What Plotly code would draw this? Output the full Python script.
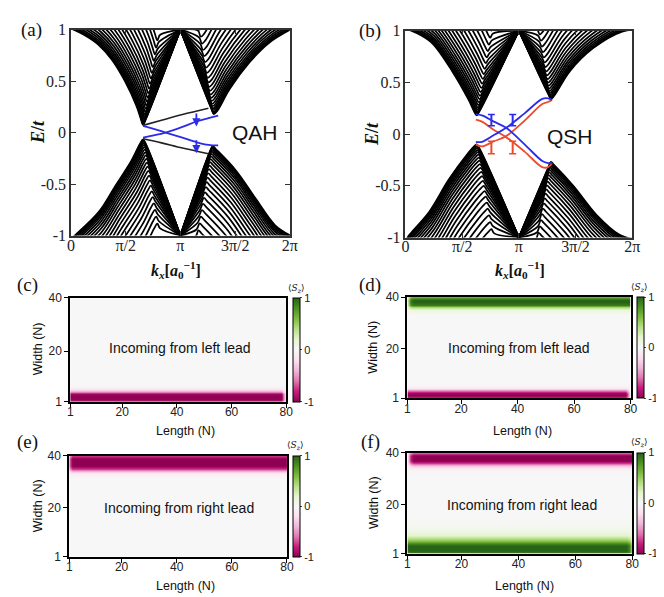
import numpy as np
import plotly.graph_objects as go

W, H = 664, 597
PI = np.pi

# ---------------- band-structure data ----------------
# outermost bulk subband of each family: free arm anchors (k, E) + pinned point at k = pi
A_UL_K = [0.0, 0.42, 0.80, 1.17, 1.55, 1.88, 2.00, 2.07, 2.15]
A_UL_E = [1.01, 0.94, 0.85, 0.71, 0.50, 0.26, 0.14, 0.075, 0.13]
A_UR_K = [4.02, 4.10, 4.20, 4.55, 5.12, 5.68, 6.30]
A_UR_E = [0.24, 0.18, 0.21, 0.42, 0.68, 0.87, 1.00]
A_LL_K = [0.0, 0.14, 0.80, 1.27, 1.74, 1.98, 2.07, 2.15]
A_LL_E = [-1.03, -0.99, -0.77, -0.52, -0.27, -0.11, -0.065, -0.11]
A_LR_K = [3.98, 4.07, 4.16, 4.74, 5.30, 5.86, 6.30]
A_LR_E = [-0.19, -0.13, -0.16, -0.37, -0.64, -0.90, -1.00]

B_UL_K = [0.0, 0.40, 0.75, 1.29, 1.75, 1.90, 1.97, 2.05]
B_UL_E = [1.02, 0.96, 0.875, 0.61, 0.33, 0.22, 0.18, 0.22]
B_UR_K = [3.95, 4.03, 4.12, 4.56, 5.20, 6.00, 6.40]
B_UR_E = [0.39, 0.34, 0.37, 0.61, 0.83, 0.99, 1.01]
B_LL_K = [0.0, 0.12, 0.66, 1.20, 1.70, 1.90, 1.97, 2.05]
B_LL_E = [-1.03, -0.97, -0.75, -0.44, -0.20, -0.12, -0.10, -0.14]
B_LR_K = [3.95, 4.03, 4.12, 4.65, 5.29, 5.92, 6.40]
B_LR_E = [-0.33, -0.27, -0.30, -0.50, -0.78, -0.97, -1.02]

PIN_K = PI          # all subbands meet at k = pi, E = +-1
PIN_E = 1.0

# offsets of the inner subbands' arms relative to the outermost one
SUB_DE = [0.0, 0.010, 0.022, 0.037, 0.055, 0.076, 0.100, 0.127, 0.157, 0.190, 0.226,
          0.265, 0.307, 0.352, 0.400, 0.451, 0.505, 0.562, 0.622, 0.685, 0.751, 0.820]
SUB_DK = [0.0, 0.005, 0.011, 0.019, 0.028, 0.038, 0.050, 0.064, 0.079, 0.095, 0.113,
          0.133, 0.154, 0.176, 0.200, 0.226, 0.253, 0.281, 0.311, 0.343, 0.376, 0.410]

# edge states, panel (a)
A_EDGE_K = [2.07, 2.30, 2.72, 3.20, 3.615, 3.946, 4.226]
A_BLUE_DOWN = [0.065, 0.043, 0.0, -0.05, -0.094, -0.119, -0.125]
A_BLUE_UP = [-0.05, -0.033, 0.0, 0.055, 0.11, 0.14, 0.165]
A_BLACK_K = [2.07, 2.60, 3.20, 3.946]
A_BLACK_UP = [0.07, 0.12, 0.175, 0.236]
A_BLACK_DN = [-0.06, -0.10, -0.15, -0.205]
A_ARROW_K = [3.60, 3.60]
A_ARROW_TAIL = [0.20, -0.06]
A_ARROW_HEAD = [0.06, -0.20]

# edge states, panel (b)
B_EDGE_K = [1.95, 2.12, 2.45, 2.79, 3.30, 3.79, 3.95, 4.06]
B_BLUE_DOWN = [0.19, 0.18, 0.12, 0.06, -0.10, -0.26, -0.28, -0.28]
B_BLUE_UP = [-0.075, -0.075, -0.01, 0.06, 0.20, 0.34, 0.345, 0.33]
B_RED_DOWN = [0.14, 0.12, 0.04, -0.03, -0.17, -0.32, -0.32, -0.28]
B_RED_UP = [-0.10, -0.12, -0.07, -0.02, 0.13, 0.29, 0.31, 0.33]
B_MARK_K = [2.38, 2.97]
B_BLUE_MARK_E = [0.08, 0.19]
B_RED_MARK_E = [-0.19, -0.07]

K_TICKS = [0, PI / 2, PI, 3 * PI / 2, 2 * PI]
K_TICK_TEXT = ["0", "π/2", "π", "3π/2", "2π"]
E_TICKS = [-1, -0.5, 0, 0.5, 1]
E_TICK_TEXT = ["-1", "-0.5", "0", "0.5", "1"]

# ---------------- spin-texture maps ----------------
N_LEN, N_WID = 80, 40
# profiles across the width; TOP lists start at row 40 going down, BOT at row 1 going up
C_TOP = []
C_BOT = [-0.5, -0.97, -1.0, -0.95, -0.5, -0.12, -0.02]
D_TOP = [0.7, 1.0, 1.0, 0.9, 0.45, 0.12, 0.03]
D_BOT = [-0.75, -1.0, -0.95, -0.5, -0.12, -0.02]
E_TOP = [-0.75, -1.0, -1.0, -1.0, -1.0, -0.75, -0.3, -0.1, -0.03]
E_BOT = []
F_TOP = [-0.6, -1.0, -1.0, -1.0, -0.8, -0.35, -0.08, -0.02]
F_BOT = [0.85, 1.0, 1.0, 1.0, 0.85, 0.55, 0.35, 0.22, 0.14, 0.08, 0.05, 0.03, 0.015]
# strength at the two first / two last columns of each stripe
C_TOP_ENDS = ([1, 1], [1, 1]); C_BOT_ENDS = ([1, 1], [0.6, 0.1])
D_TOP_ENDS = ([0.3, 0.9], [1, 1]); D_BOT_ENDS = ([1, 1], [0.7, 0.15])
E_TOP_ENDS = ([0.6, 1], [1, 1]); E_BOT_ENDS = ([1, 1], [1, 1])
F_TOP_ENDS = ([0.2, 0.8], [1, 1]); F_BOT_ENDS = ([1, 1], [0.85, 0.3])


def col_factor(ends):
    f = [1.0] * N_LEN
    f[0], f[1] = ends[0]
    f[-2], f[-1] = ends[1]
    return f


def build_map(top, bot, top_ends, bot_ends):
    ft, fb = col_factor(top_ends), col_factor(bot_ends)
    z = []
    for r in range(1, N_WID + 1):
        t = top[N_WID - r] if (N_WID - r) < len(top) else 0.0
        b = bot[r - 1] if (r - 1) < len(bot) else 0.0
        z.append([t * ft[c] + b * fb[c] for c in range(N_LEN)])
    return z


def px(x):
    return x / W


def py(y):
    return 1 - y / H


fig = go.Figure()


def family(ks, es, sk, se, pin_first, xa, ya):
    xs, ys = [], []
    pin = (PIN_K, se * PIN_E)
    for dk, de in zip(SUB_DK, SUB_DE):
        bx = [k + sk * dk for k in ks]
        by = [e + se * de for e in es]
        if pin_first:
            bx, by = [pin[0]] + bx, [pin[1]] + by
        else:
            bx, by = bx + [pin[0]], by + [pin[1]]
        xs += bx + [None]
        ys += by + [None]
    fig.add_trace(go.Scatter(x=xs, y=ys, mode="lines", xaxis=xa, yaxis=ya,
                             line=dict(color="black", width=1.75, shape="spline"),
                             hoverinfo="skip", showlegend=False))


for (ks, es, sk, se, pf) in [(A_UL_K, A_UL_E, 1, 1, False), (A_UR_K, A_UR_E, -1, 1, True),
                             (A_LL_K, A_LL_E, 1, -1, False), (A_LR_K, A_LR_E, -1, -1, True)]:
    family(ks, es, sk, se, pf, "x", "y")
for (ks, es, sk, se, pf) in [(B_UL_K, B_UL_E, 1, 1, False), (B_UR_K, B_UR_E, -1, 1, True),
                             (B_LL_K, B_LL_E, 1, -1, False), (B_LR_K, B_LR_E, -1, -1, True)]:
    family(ks, es, sk, se, pf, "x2", "y2")

BLUE = "#2b2bea"
RED = "#ee4a2c"


def line(xs, ys, color, xa, ya, w=1.8):
    fig.add_trace(go.Scatter(x=xs, y=ys, mode="lines", xaxis=xa, yaxis=ya,
                             line=dict(color=color, width=w, shape="spline"),
                             hoverinfo="skip", showlegend=False))


line(A_BLACK_K, A_BLACK_UP, "#222", "x", "y", 1.6)
line(A_BLACK_K, A_BLACK_DN, "#222", "x", "y", 1.6)
line(A_EDGE_K, A_BLUE_DOWN, BLUE, "x", "y")
line(A_EDGE_K, A_BLUE_UP, BLUE, "x", "y")

line(B_EDGE_K, B_RED_DOWN, RED, "x2", "y2")
line(B_EDGE_K, B_RED_UP, RED, "x2", "y2")
line(B_EDGE_K, B_BLUE_DOWN, BLUE, "x2", "y2")
line(B_EDGE_K, B_BLUE_UP, BLUE, "x2", "y2")

for k in B_MARK_K:
    for es, col in [(B_BLUE_MARK_E, BLUE), (B_RED_MARK_E, RED)]:
        fig.add_trace(go.Scatter(x=[k, k], y=es, mode="lines+markers", xaxis="x2", yaxis="y2",
                                 line=dict(color=col, width=2),
                                 marker=dict(symbol="line-ew-open", size=5,
                                             line=dict(color=col, width=1.5)),
                                 hoverinfo="skip", showlegend=False))

annotations = []
for k, t, h in zip(A_ARROW_K, A_ARROW_TAIL, A_ARROW_HEAD):
    annotations.append(dict(x=k, y=h, ax=k, ay=t, xref="x", yref="y", axref="x", ayref="y",
                            showarrow=True, arrowhead=2, arrowsize=0.9, arrowwidth=1.8,
                            arrowcolor=BLUE, text=""))

# ---------------- heatmaps ----------------
maps = [
    (build_map(C_TOP, C_BOT, C_TOP_ENDS, C_BOT_ENDS), "x3", "y3", 285.7, 290.0, 397.3),
    (build_map(D_TOP, D_BOT, D_TOP_ENDS, D_BOT_ENDS), "x4", "y4", 636.7, 289.3, 393.3),
    (build_map(E_TOP, E_BOT, E_TOP_ENDS, E_BOT_ENDS), "x5", "y5", 285.7, 452.7, 556.7),
    (build_map(F_TOP, F_BOT, F_TOP_ENDS, F_BOT_ENDS), "x6", "y6", 637.0, 449.3, 553.3),
]
LEN_AX = list(range(1, N_LEN + 1))
WID_AX = list(range(1, N_WID + 1))
for z, xa, ya, cbx, top, bot in maps:
    fig.add_trace(go.Heatmap(
        z=z, x=LEN_AX, y=WID_AX, xaxis=xa, yaxis=ya, colorscale="PiYG",
        zmin=-1, zmax=1, zsmooth="best", hoverinfo="skip",
        colorbar=dict(x=px(cbx), xanchor="left", xref="paper", y=py((top + bot) / 2),
                      yanchor="middle", yref="paper", len=(bot - top) / H, lenmode="fraction",
                      thickness=7, thicknessmode="pixels", xpad=0, ypad=0,
                      outlinewidth=1, outlinecolor="black",
                      tickvals=[-1, 0, 1], ticktext=["-1", "0", "1"], ticks="outside",
                      ticklen=2, tickwidth=1,
                      tickfont=dict(family="Liberation Sans", size=11, color="#222"))))

serif = "Liberation Serif"
sans = "Liberation Sans"

band_x = dict(range=[0, 2 * PI], tickvals=K_TICKS, ticktext=K_TICK_TEXT, ticks="inside",
              ticklen=5, tickwidth=1, tickcolor="#333", showline=True, linewidth=1.5,
              linecolor="#333", mirror="ticks", showgrid=False, zeroline=False,
              ticklabelstandoff=-6,
              tickfont=dict(family=serif, size=16, color="#222"))
band_y = dict(range=[-1, 1], tickvals=E_TICKS, ticktext=E_TICK_TEXT, ticks="inside",
              ticklen=5, tickwidth=1, tickcolor="#333", showline=True, linewidth=1.5,
              linecolor="#333", mirror="ticks", showgrid=False, zeroline=False,
              tickfont=dict(family=serif, size=16, color="#222"))
hm_x = dict(range=[1, 80], tickvals=[1, 20, 40, 60, 80], ticks="outside", ticklen=4,
            tickwidth=1.2, tickcolor="black", showline=True, linewidth=2, linecolor="black",
            mirror=True, showgrid=False, zeroline=False, ticklabelstandoff=-6,
            tickfont=dict(family=sans, size=12, color="#222"))
hm_y = dict(range=[1, 40], tickvals=[1, 20, 40], ticks="outside", ticklen=4,
            tickwidth=1.2, tickcolor="black", showline=True, linewidth=2, linecolor="black",
            mirror=True, showgrid=False, zeroline=False,
            tickfont=dict(family=sans, size=12, color="#222"))

layout = dict(width=W, height=H, margin=dict(l=0, r=0, t=0, b=0),
              paper_bgcolor="white", plot_bgcolor="white", showlegend=False)

domains = {
    "": ((60, 283), (14, 226), band_x, band_y),
    "2": ((400.7, 631.7), (15, 228), band_x, band_y),
    "3": ((59.3, 279.3), (290, 397.3), hm_x, hm_y),
    "4": ((402.7, 630), (289.3, 393.3), hm_x, hm_y),
    "5": ((58.3, 280), (452.7, 556.7), hm_x, hm_y),
    "6": ((402.7, 631.7), (449.3, 553.3), hm_x, hm_y),
}
for key, ((x0, x1), (y0, y1), ax, ay) in domains.items():
    xa = dict(ax); ya = dict(ay)
    xa["domain"] = [px(x0), px(x1)]
    ya["domain"] = [py(y1), py(y0)]
    xa["anchor"] = "y" + key
    ya["anchor"] = "x" + key
    layout["xaxis" + key] = xa
    layout["yaxis" + key] = ya


def text(x, y, s, size, family, angle=0, color="#111"):
    annotations.append(dict(x=px(x), y=py(y), xref="paper", yref="paper", text=s,
                            showarrow=False, textangle=angle, xanchor="center",
                            yanchor="middle", font=dict(size=size, family=family, color=color)))


# panel labels
for s, x, y in [("(a)", 20, 14), ("(b)", 365, 15), ("(c)", 16, 277),
                ("(d)", 365, 277), ("(e)", 16, 438), ("(f)", 365, 438)]:
    text(x, y, s, 19, serif)

# band axes titles
klabel = "<b><i>k<sub>x</sub></i>[<i>a</i><sub>0</sub><sup>−1</sup>]</b>"
text(167.5, 261, klabel, 16, serif)
text(517.5, 261, klabel, 16, serif)
text(26, 120, "<b><i>E</i>/<i>t</i></b>", 18, serif, -90)
text(366, 121, "<b><i>E</i>/<i>t</i></b>", 18, serif, -90)
text(247, 120, "QAH", 21, sans)
text(568, 124, "QSH", 21, sans)

# heatmap titles/labels
for cx, cy, s in [(171, 342, "Incoming from left lead"), (516, 342, "Incoming from left lead"),
                  (170.5, 506.5, "Incoming from right lead"), (519.5, 503.5, "Incoming from right lead")]:
    text(cx, cy, s, 14, sans)
for x, y in [(26.5, 343), (368, 341), (26, 504), (368, 501)]:
    text(x, y, "Width (N)", 12.5, sans, -90)
for x, y in [(176.7, 427), (520, 427), (176.7, 587), (522, 587)]:
    text(x, y, "Length (N)", 12.5, sans)
for x, y in [(290, 280), (639, 279), (289, 442), (639, 439)]:
    text(x, y, "⟨<i>S<sub>z</sub></i>⟩", 9, "DejaVu Serif")

layout["annotations"] = annotations
fig.update_layout(**layout)
fig.write_html("out.html")
